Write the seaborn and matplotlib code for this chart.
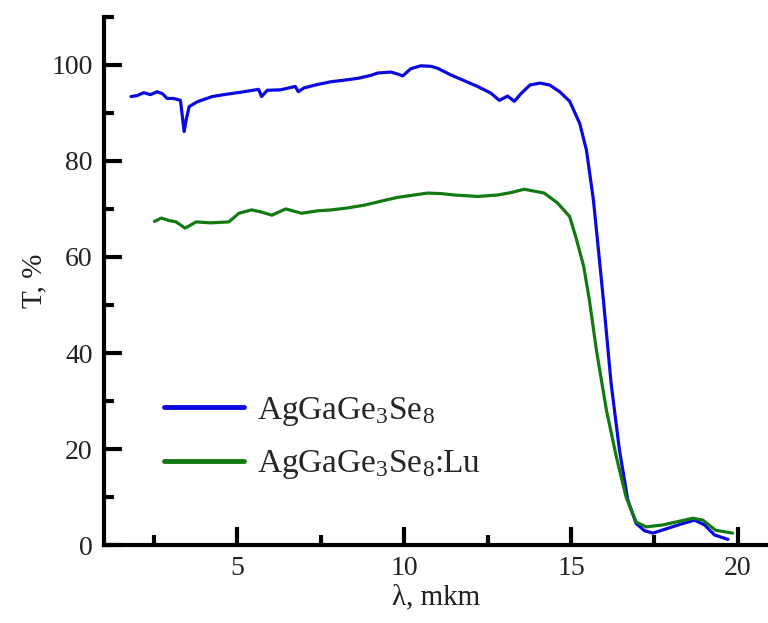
import matplotlib
matplotlib.use("Agg")
import matplotlib.pyplot as plt
import seaborn as sns
import pandas as pd
from matplotlib.ticker import MultipleLocator

# Data
wl_pure = [1.82, 2.0, 2.2, 2.4, 2.6, 2.76, 2.9, 3.1, 3.3, 3.41, 3.47, 3.56, 3.8, 4.25, 4.7, 5.2, 5.64, 5.73,
           5.9, 6.3, 6.74, 6.83, 7.0, 7.4, 7.82, 8.2, 8.62, 9.0, 9.21, 9.6, 9.8, 9.96, 10.2, 10.5, 10.8,
           11.0, 11.2, 11.4, 11.8, 12.2, 12.6, 12.85, 13.1, 13.3, 13.5, 13.77, 14.07, 14.36, 14.66, 14.96,
           15.26, 15.46, 15.67, 15.82, 15.97, 16.2, 16.45, 16.7, 16.95, 17.2, 17.45, 17.9, 18.3, 18.7,
           19.0, 19.3, 19.7]
t_pure = [93.4, 93.6, 94.2, 93.8, 94.4, 94.0, 93.0, 93.0, 92.6, 86.1, 88.5, 91.3, 92.3, 93.4, 93.9, 94.4, 94.9, 93.4,
          94.7, 94.8, 95.5, 94.4, 95.2, 95.9, 96.5, 96.8, 97.2, 97.8, 98.3, 98.5, 98.1, 97.7, 99.2, 99.8, 99.7,
          99.3, 98.6, 97.9, 96.7, 95.5, 94.1, 92.6, 93.5, 92.4, 94.0, 95.8, 96.2, 95.8, 94.4, 92.4,
          87.8, 82.3, 71.9, 61.5, 51.0, 33.7, 19.8, 9.4, 4.5, 3.0, 2.5, 3.5, 4.4, 5.2,
          4.2, 2.1, 1.2]

wl_lu = [2.52, 2.73, 2.95, 3.17, 3.44, 3.77, 4.2, 4.75, 5.05, 5.43, 5.7, 6.04, 6.45, 6.93, 7.4, 7.82, 8.3,
         8.82, 9.3, 9.8, 10.2, 10.7, 11.1, 11.5, 12.2, 12.8, 13.2, 13.6, 14.2, 14.6, 14.96, 15.17, 15.38,
         15.55, 15.76, 16.06, 16.36, 16.65, 16.95, 17.25, 17.75, 18.2, 18.65, 18.95, 19.33, 19.84]
t_lu = [67.4, 68.1, 67.6, 67.3, 66.0, 67.3, 67.1, 67.3, 69.1, 69.8, 69.4, 68.7, 70.0, 69.1, 69.6, 69.8, 70.2,
        70.8, 71.6, 72.4, 72.8, 73.3, 73.2, 72.9, 72.6, 72.9, 73.4, 74.1, 73.3, 71.2, 68.4, 63.5, 58.0,
        51.0, 40.6, 28.1, 18.3, 10.0, 4.8, 3.8, 4.2, 4.9, 5.6, 5.2, 3.1, 2.5]

labels = [r"AgGaGe$_3$Se$_8$", r"AgGaGe$_3$Se$_8$:Lu"]
colors = ["#0a0ae0", "#137a13"]

df = pd.concat([
    pd.DataFrame({"wl": wl_pure, "T": t_pure, "sample": labels[0]}),
    pd.DataFrame({"wl": wl_lu, "T": t_lu, "sample": labels[1]}),
])

sns.set_style("ticks")
plt.rcParams["font.family"] = ["Liberation Serif", "DejaVu Serif"]
plt.rcParams["mathtext.fontset"] = "custom"
plt.rcParams["mathtext.rm"] = "Liberation Serif"
plt.rcParams["mathtext.it"] = "Liberation Serif"

fig = plt.figure(figsize=(7.68, 6.23), dpi=100)
ax = fig.add_axes([0.135, 0.125, 0.865, 0.848])

sns.lineplot(data=df, x="wl", y="T", hue="sample", palette=colors, lw=2.3,
             sort=False, estimator=None, ax=ax, legend=True)

ax.set_xlim(1, 20.9)
ax.set_ylim(0, 110)
ax.xaxis.set_major_locator(MultipleLocator(5))
ax.xaxis.set_minor_locator(MultipleLocator(2.5))
ax.yaxis.set_major_locator(MultipleLocator(20))
ax.yaxis.set_minor_locator(MultipleLocator(10))
ax.set_yticks([0, 20, 40, 60, 80, 100])

for s in ["top", "right"]:
    ax.spines[s].set_visible(False)
for s in ["left", "bottom"]:
    ax.spines[s].set_linewidth(3)
    ax.spines[s].set_color("black")

ax.tick_params(which="major", direction="in", length=13, width=3, labelsize=20, pad=8, colors="black",
               labelcolor="#222222")
ax.tick_params(which="minor", direction="in", length=7, width=3, colors="black")

ax.set_xlabel("λ, mkm", fontsize=21, labelpad=2, color="#222222")
ax.set_ylabel("T, %", fontsize=21, labelpad=3, color="#222222")

leg = ax.legend(handles=ax.get_lines()[:2], labels=labels, loc="upper left",
                bbox_to_anchor=(0.07, 0.31), frameon=False, fontsize=24, handlelength=2.4,
                handletextpad=0.4, labelspacing=0.62, borderaxespad=0)
for h in leg.legend_handles:
    h.set_linewidth(3.5)

fig.savefig("out.png", dpi=100)
